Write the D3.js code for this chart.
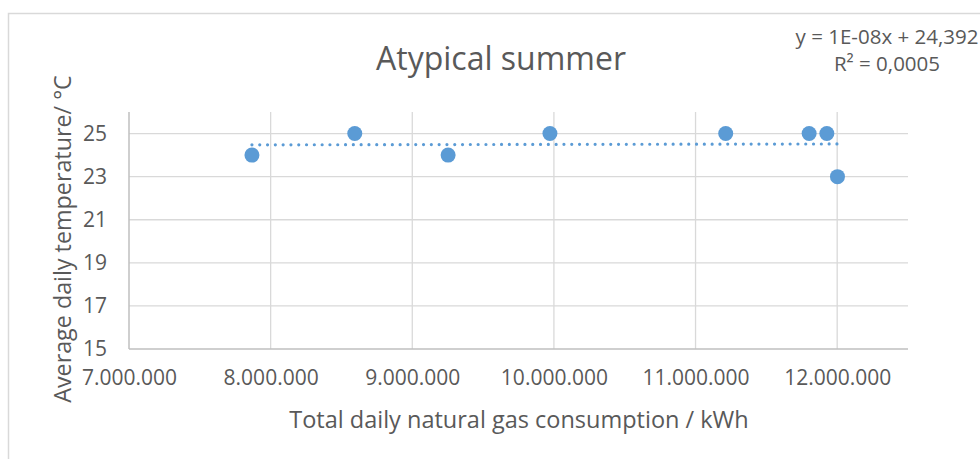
<!DOCTYPE html>
<html>
<head>
<meta charset="utf-8">
<script src="https://cdn.jsdelivr.net/npm/d3@7"></script>
<style>
  body { margin: 0; background: #fff; }
  svg { display: block; font-family: "Open Sans", sans-serif; }
</style>
</head>
<body>
<div id="chart"></div>
<script>
// data
const gasUse = [7868000, 8594000, 9253000, 9972000, 11213000, 11802000, 11927000, 12002000];
const avgTemp = [24, 25, 24, 25, 25, 25, 25, 23];
const xTicks = [7000000, 8000000, 9000000, 10000000, 11000000, 12000000];
const yTicks = [15, 17, 19, 21, 23, 25];
const equationLines = ["y = 1E-08x + 24,392", "R² = 0,0005"];

const width = 980, height = 459;
const margin = {top: 112, right: 72, bottom: 110, left: 129};
const textColor = "#595959";
const blue = "#5B9BD5";

const locale = d3.formatLocale({decimal: ",", thousands: ".", grouping: [3], currency: ["", ""]});
const fmt = locale.format(",d");

const x = d3.scaleLinear().domain([7000000, 12500000]).range([margin.left, width - margin.right]);
const y = d3.scaleLinear().domain([15, 26]).range([height - margin.bottom, margin.top]);

const svg = d3.select("#chart").append("svg")
    .attr("width", width)
    .attr("height", height);

// chart area border
svg.append("rect")
    .attr("x", 8.5).attr("y", 13.5)
    .attr("width", width + 20).attr("height", height + 20)
    .attr("fill", "#fff")
    .attr("stroke", "#D9D9D9")
    .attr("stroke-width", 1.5);

// gridlines
svg.append("g")
    .selectAll("line")
    .data(yTicks.filter(d => d !== 15))
    .join("line")
    .attr("x1", x.range()[0]).attr("x2", x.range()[1])
    .attr("y1", d => y(d)).attr("y2", d => y(d))
    .attr("stroke", "#D9D9D9")
    .attr("stroke-width", 1.3);

svg.append("g")
    .selectAll("line")
    .data(xTicks.filter(d => d !== 7000000))
    .join("line")
    .attr("x1", d => x(d)).attr("x2", d => x(d))
    .attr("y1", y.range()[0]).attr("y2", y.range()[1])
    .attr("stroke", "#D9D9D9")
    .attr("stroke-width", 1.3);

// x axis
svg.append("g")
    .attr("transform", `translate(0,${y(15)})`)
    .call(d3.axisBottom(x).tickValues(xTicks).tickFormat(fmt).tickSize(0).tickPadding(21))
    .call(g => g.select(".domain").attr("stroke", "#BFBFBF").attr("stroke-width", 1.5)
        .attr("d", `M${x.range()[0]},0H${x.range()[1]}`))
    .call(g => g.selectAll("text").attr("fill", textColor).style("font-size", "21px")
        .style("font-family", "'Open Sans', sans-serif"));

// y axis
svg.append("g")
    .attr("transform", `translate(${margin.left},0)`)
    .call(d3.axisLeft(y).tickValues(yTicks).tickSize(0).tickPadding(22))
    .call(g => g.select(".domain").attr("stroke", "#BFBFBF").attr("stroke-width", 1.5)
        .attr("d", `M0,${y.range()[0]}V${y.range()[1]}`))
    .call(g => g.selectAll("text").attr("fill", textColor).style("font-size", "21px")
        .style("font-family", "'Open Sans', sans-serif"));

// linear trendline (least squares)
const xm = d3.mean(gasUse), ym = d3.mean(avgTemp);
const slope = d3.sum(gasUse, (d, i) => (d - xm) * (avgTemp[i] - ym)) / d3.sum(gasUse, d => (d - xm) ** 2);
const intercept = ym - slope * xm;
const [xMin, xMax] = d3.extent(gasUse);

svg.append("line")
    .attr("x1", x(xMin)).attr("y1", y(intercept + slope * xMin))
    .attr("x2", x(xMax)).attr("y2", y(intercept + slope * xMax))
    .attr("stroke", blue)
    .attr("stroke-width", 3.2)
    .attr("stroke-linecap", "round")
    .attr("stroke-dasharray", "0 7.8");

// points
svg.append("g")
    .selectAll("circle")
    .data(gasUse)
    .join("circle")
    .attr("cx", d => x(d))
    .attr("cy", (d, i) => y(avgTemp[i]))
    .attr("r", 7.5)
    .attr("fill", blue);

// title
svg.append("text")
    .attr("x", 501).attr("y", 70)
    .attr("text-anchor", "middle")
    .attr("fill", textColor)
    .style("font-size", "32px")
    .text("Atypical summer");

// axis titles
svg.append("text")
    .attr("x", 519).attr("y", 428)
    .attr("text-anchor", "middle")
    .attr("fill", textColor)
    .style("font-size", "23.5px")
    .text("Total daily natural gas consumption / kWh");

svg.append("text")
    .attr("transform", "translate(71,239) rotate(-90)")
    .attr("text-anchor", "middle")
    .attr("fill", textColor)
    .style("font-size", "23.3px")
    .text("Average daily temperature/ °C");

// trendline label
svg.append("g")
    .selectAll("text")
    .data(equationLines)
    .join("text")
    .attr("x", 887)
    .attr("y", (d, i) => 44 + i * 27)
    .attr("text-anchor", "middle")
    .attr("fill", textColor)
    .style("font-size", "20.5px")
    .text(d => d);
</script>
</body>
</html>
